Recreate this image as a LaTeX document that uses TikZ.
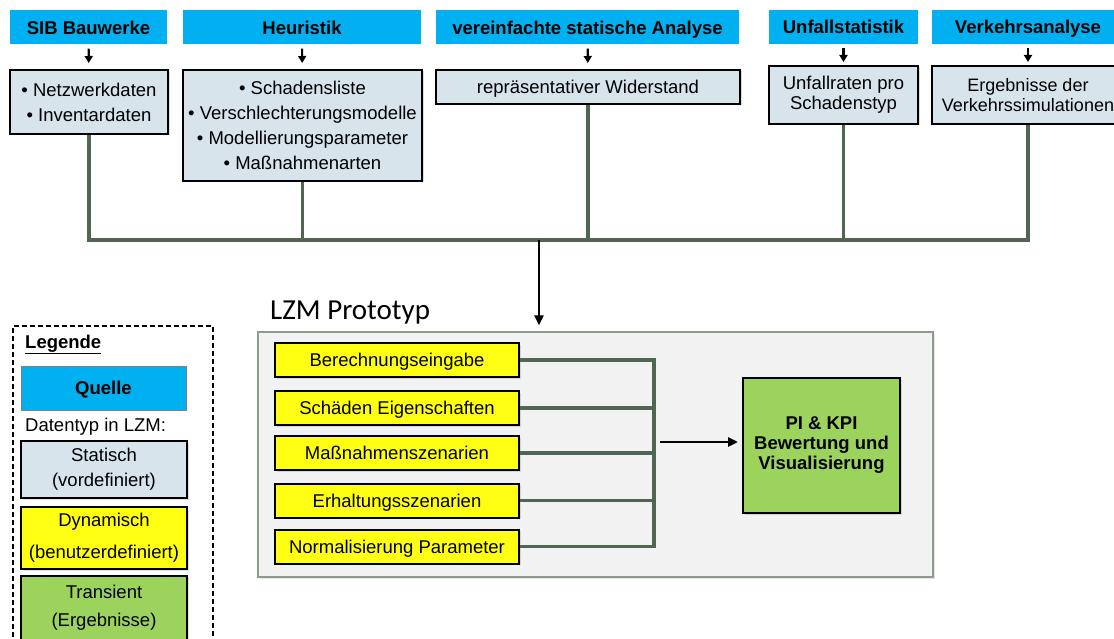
\documentclass[tikz,border=0pt]{standalone}
\usepackage{fontspec}
\setmainfont{Liberation Sans}
\newfontfamily\calibri{Carlito}
\usetikzlibrary{arrows.meta,shadows}

\definecolor{quelle}{RGB}{0,176,240}
\definecolor{statisch}{RGB}{215,228,236}
\definecolor{dynamisch}{RGB}{255,255,20}
\definecolor{transient}{RGB}{155,211,92}
\definecolor{leitung}{RGB}{80,102,82}
\definecolor{rahmen}{RGB}{140,156,140}

\tikzset{
  einzeilig/.style={text height=13.5pt, text depth=0pt},
  quellbox/.style={fill=quelle, inner sep=0pt, einzeilig, font=\fontsize{18.5}{22}\selectfont\bfseries},
  statbox/.style={draw=black, line width=2pt, fill=statisch, inner sep=0pt, align=center,
    drop shadow={shadow xshift=1.5pt, shadow yshift=-1.5pt, opacity=0.25},
    font=\fontsize{18.5}{25}\selectfont},
  dynbox/.style={statbox, fill=dynamisch},
  ergbox/.style={statbox, fill=transient},
  protobox/.style={draw=rahmen, line width=1.4pt, fill=black!5,
    drop shadow={shadow xshift=2pt, shadow yshift=-2pt, opacity=0.2}},
  bus/.style={draw=leitung, line width=3.2pt},
  pfeil/.style={-{Triangle[length=10pt,width=9pt]}, line width=2.6pt},
  kurzpfeil/.style={-{Triangle[length=7pt,width=8pt]}, line width=2.2pt,
    shorten <=4pt, shorten >=6pt}
}

\begin{document}
\begin{tikzpicture}[x=1pt,y=-1pt]
    \clip (0,0) rectangle (1114,639);

    \node[quellbox, minimum width=157pt, minimum height=34pt] (sib) at (88.5,27.5) {SIB Bauwerke};
    \node[quellbox, minimum width=238pt, minimum height=34pt] (heur) at (302,27.5) {Heuristik};
    \node[quellbox, minimum width=303pt, minimum height=34pt] (vsa) at (587.5,27.5) {vereinfachte statische Analyse};
    \node[quellbox, minimum width=149pt, minimum height=34pt] (unf) at (843.5,27) {Unfallstatistik};
    \node[quellbox, minimum width=192pt, minimum height=34pt] (verk) at (1028,27) {Verkehrsanalyse};

    \node[statbox, minimum width=158pt, minimum height=64pt] (netz) at (89,102) {• Netzwerkdaten\\• Inventardaten};
    \node[statbox, minimum width=239pt, minimum height=111pt] (liste) at (302.5,125.5)
        {• Schadensliste\\• Verschlechterungsmodelle\\• Modellierungsparameter\\• Maßnahmenarten};
    \node[statbox, einzeilig, minimum width=304pt, minimum height=34pt] (wid) at (588,87) {repräsentativer Widerstand};
    \node[statbox, minimum width=149pt, minimum height=58pt, font=\fontsize{18.5}{20}\selectfont] (rate) at (843.5,95) {Unfallraten pro\\Schadenstyp};
    \node[statbox, minimum width=192pt, minimum height=58pt, font=\fontsize{18}{20}\selectfont] (sim) at (1028,95) {Ergebnisse der\\Verkehrssimulationen};

    \draw[kurzpfeil] (sib) -- (netz);
    \draw[kurzpfeil] (heur) -- (liste);
    \draw[kurzpfeil] (vsa) -- (wid);
    \draw[kurzpfeil, shorten >=3pt] (unf) -- (rate);
    \draw[kurzpfeil, shorten >=3pt] (verk) -- (sim);

    % Sammelleitung
    \coordinate (busl) at (89,240);
    \coordinate (busr) at (1028,240);
    \coordinate (abzweig) at (539,240);
    \draw[bus] (netz.south) -- (busl) -- (busr) -- (sim.south);
    \draw[bus] (liste.south) -- (liste.south |- busl);
    \draw[bus] (wid.south) -- (wid.south |- busl);
    \draw[bus] (rate.south) -- (rate.south |- busl);

    \node[protobox, minimum width=675pt, minimum height=245pt] (proto) at (595.5,454.5) {};
    \node[font=\calibri\fontsize{29}{30}\selectfont, anchor=base west, inner sep=0pt] (titel) at (270,319) {LZM Prototyp};
    \draw[pfeil, shorten >=6pt] (abzweig) -- (abzweig |- proto.north);

    \node[dynbox, einzeilig, minimum width=244pt, minimum height=34pt] (b1) at (397,360) {Berechnungseingabe};
    \node[dynbox, einzeilig, minimum width=244pt, minimum height=34pt] (b2) at (397,408) {Schäden Eigenschaften};
    \node[dynbox, einzeilig, minimum width=244pt, minimum height=34pt] (b3) at (397,453) {Maßnahmenszenarien};
    \node[dynbox, einzeilig, minimum width=244pt, minimum height=34pt] (b4) at (397,500.5) {Erhaltungsszenarien};
    \node[dynbox, einzeilig, minimum width=244pt, minimum height=34pt] (b5) at (397,546.5) {Normalisierung Parameter};

    \node[ergbox, minimum width=157pt, minimum height=135pt, font=\fontsize{18.5}{20}\selectfont\bfseries] (kpi) at (821.5,445.5)
        {PI \& KPI\\Bewertung und\\Visualisierung};

    \coordinate (sammel) at (654,453);
    \draw[bus] (b1.east) -- (b1.east -| sammel) -- (b5.east -| sammel) -- (b5.east);
    \draw[bus] (b2.east) -- (b2.east -| sammel);
    \draw[bus] (b3.east) -- (b3.east -| sammel);
    \draw[bus] (b4.east) -- (b4.east -| sammel);
    \coordinate (start) at (660,442);
    \draw[pfeil, shorten >=4pt] (start) -- (start -| kpi.west);

    % Legende
    \node[draw=black, line width=1.3pt, dash pattern=on 5pt off 3pt, minimum width=200pt, minimum height=334pt] (legende) at (113,493) {};
    \node[anchor=base west, inner sep=0pt, font=\fontsize{18.5}{22}\selectfont\bfseries] (legtitel) at (25,348) {\underline{Legende}};
    \node[quellbox, draw=gray, line width=0.8pt, minimum width=165pt, minimum height=44pt] (lquelle) at (103.5,388) {Quelle};
    \node[anchor=west, inner sep=0pt, font=\fontsize{18.5}{22}\selectfont] (ltyp) at (25,427) {Datentyp in LZM:};
    \node[statbox, minimum width=166pt, minimum height=57pt] (lstat) at (104,469.5) {Statisch\\(vordefiniert)};
    \node[dynbox, minimum width=166pt, minimum height=62pt, font=\fontsize{18.5}{32}\selectfont] (ldyn) at (104,538) {Dynamisch\\(benutzerdefiniert)};
    \node[ergbox, minimum width=166pt, minimum height=74pt, font=\fontsize{18.5}{28}\selectfont] (lerg) at (104,613)
        {Transient\\(Ergebnisse)\rule[-14pt]{0pt}{14pt}};
\end{tikzpicture}
\end{document}
